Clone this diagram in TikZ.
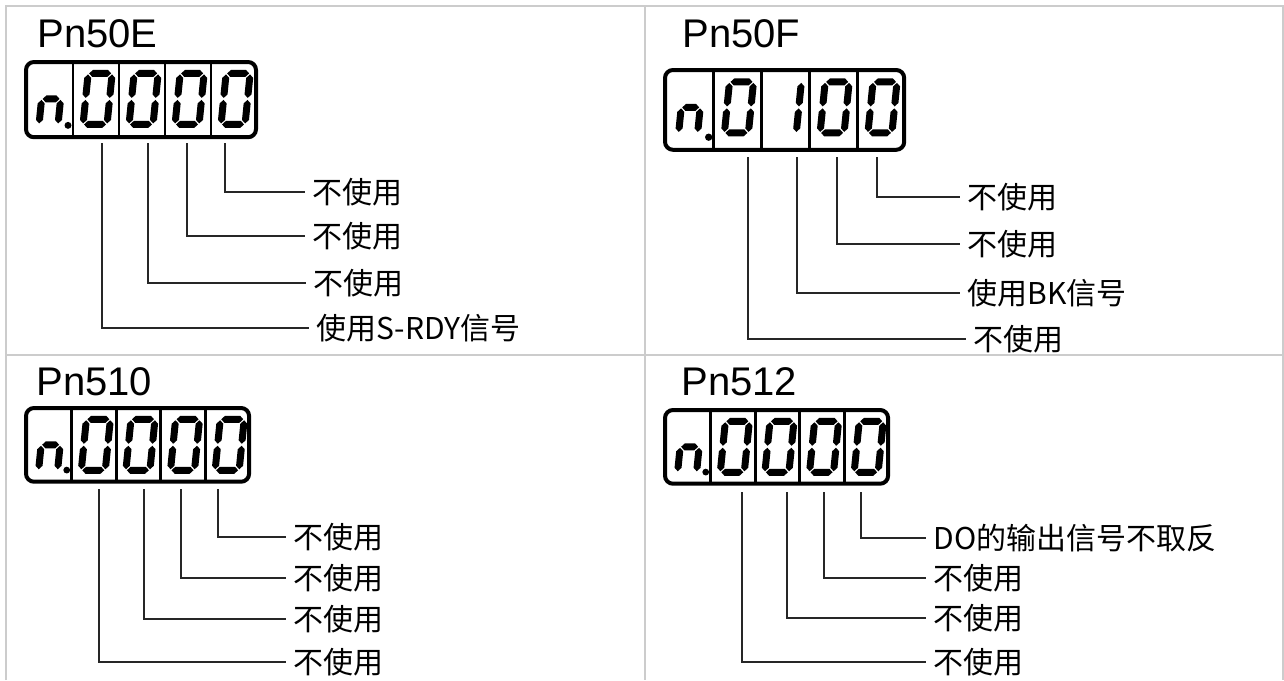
\documentclass[tikz,border=0pt]{standalone}
\usepackage{fontspec}
\setmainfont{Liberation Sans}
\newfontfamily\cjk{Noto Sans CJK SC}
\usetikzlibrary{positioning}
% one 7-segment bar, horizontal (x1,x2,y) or vertical (x,y1,y2)
\newcommand\hseg[3]{\fill ({#1},{#3}) -- ({#1+3.5},{#3-3.5}) -- ({#2-3.5},{#3-3.5}) -- ({#2},{#3}) -- ({#2-3.5},{#3+3.5}) -- ({#1+3.5},{#3+3.5}) -- cycle;}
\newcommand\vseg[3]{\fill ({#1},{#2}) -- ({#1+3.5},{#2+3.5}) -- ({#1+3.5},{#3-3.5}) -- ({#1},{#3}) -- ({#1-3.5},{#3-3.5}) -- ({#1-3.5},{#2+3.5}) -- cycle;}
\tikzset{
  gridln/.style={draw=black!20, line width=1pt},
  title/.style={font=\fontsize{20}{22}\selectfont, anchor=base west, inner sep=0pt},
  lbl/.style={font=\cjk\fontsize{15}{17}\selectfont, anchor=west, inner xsep=3.5pt, inner ysep=1pt},
  lead/.style={draw=black!85, line width=0.75pt},
  panel/.style={draw, line width=2pt, rounded corners=4pt},
  cellsep/.style={draw, line width=1.4pt},
  pics/digzero/.style={code={\hseg{4.5}{26.5}{3.5}\vseg{27.5}{4.5}{28}\vseg{27.5}{30}{53.5}\hseg{4.5}{26.5}{54.5}\vseg{3.5}{30}{53.5}\vseg{3.5}{4.5}{28}}},
  pics/digone/.style={code={\vseg{27.5}{4.5}{28}\vseg{27.5}{30}{53.5}}},
  pics/dign/.style={code={\hseg{4.5}{21.5}{29}\vseg{3.5}{30}{53.5}\vseg{22.5}{30}{53.5}}},
}
% display n.abcd, digits given as pic names
\newcommand\display[4]{%
  \draw[panel] (0,0) rectangle (230,76);
  \foreach \sx in {47,93,139,185} \draw[cellsep] (\sx,0) -- (\sx,76);
  \pic[xslant=0.1] at (15,8) {dign};
  \fill (42,64) circle (3.5);
  \pic[xslant=0.1] at (59,8) {#1};
  \pic[xslant=0.1] at (105,8) {#2};
  \pic[xslant=0.1] at (151,8) {#3};
  \pic[xslant=0.1] at (197,8) {#4};}
\begin{document}
\begin{tikzpicture}[x=0.5pt,y=-0.5pt]
\useasboundingbox (0,0) rectangle (1284,680);
% table frame
\draw[gridln] (6,680) -- (6,6) -- (1283,6) -- (1283,680);
\draw[gridln] (6,355) -- (1283,355);
\draw[gridln] (645,6) -- (645,680);

% Pn50E
\node[title] (t1) at (37,47) {Pn50E};
\begin{scope}[shift={(26,62)}, yscale=0.99]
\display{digzero}{digzero}{digzero}{digzero}
\end{scope}
\coordinate (p11) at (102,143); \coordinate (p12) at (148,143);
\coordinate (p13) at (187,143); \coordinate (p14) at (225,143);
\node[lbl] (a14) at (305,192) {不使用};
\node[lbl] (a13) at (305,236) {不使用};
\node[lbl] (a12) at (306,283) {不使用};
\node[lbl] (a11) at (309,328) {使用S-RDY信号};
\draw[lead] (p14) |- (a14.west);
\draw[lead] (p13) |- (a13.west);
\draw[lead] (p12) |- (a12.west);
\draw[lead] (p11) |- (a11.west);

% Pn50F
\node[title] (t2) at (682,47) {Pn50F};
\begin{scope}[shift={(665,70)}, xscale=1.04, yscale=1.05]
\display{digzero}{digone}{digzero}{digzero}
\end{scope}
\coordinate (p21) at (748,157); \coordinate (p22) at (797,157);
\coordinate (p23) at (837,157); \coordinate (p24) at (877,157);
\node[lbl] (a24) at (960,197) {不使用};
\node[lbl] (a23) at (960,244) {不使用};
\node[lbl] (a22) at (960,293) {使用BK信号};
\node[lbl] (a21) at (966,339) {不使用};
\draw[lead] (p24) |- (a24.west);
\draw[lead] (p23) |- (a23.west);
\draw[lead] (p22) |- (a22.west);
\draw[lead] (p21) |- (a21.west);

% Pn510
\node[title] (t3) at (36,395) {Pn510};
\begin{scope}[shift={(26,408)}, xscale=0.97, yscale=0.97]
\display{digzero}{digzero}{digzero}{digzero}
\end{scope}
\coordinate (p31) at (99,489); \coordinate (p32) at (144,489);
\coordinate (p33) at (181,489); \coordinate (p34) at (218,489);
\node[lbl] (a34) at (286,537) {不使用};
\node[lbl] (a33) at (286,578) {不使用};
\node[lbl] (a32) at (286,619) {不使用};
\node[lbl] (a31) at (286,662) {不使用};
\draw[lead] (p34) |- (a34.west);
\draw[lead] (p33) |- (a33.west);
\draw[lead] (p32) |- (a32.west);
\draw[lead] (p31) |- (a31.west);

% Pn512
\node[title] (t4) at (681,395) {Pn512};
\begin{scope}[shift={(665,410)}, xscale=0.97, yscale=0.97]
\display{digzero}{digzero}{digzero}{digzero}
\end{scope}
\coordinate (p41) at (742,492); \coordinate (p42) at (787,492);
\coordinate (p43) at (824,492); \coordinate (p44) at (861,492);
\node[lbl] (a44) at (926,538) {DO的输出信号不取反};
\node[lbl] (a43) at (926,578) {不使用};
\node[lbl] (a42) at (926,618) {不使用};
\node[lbl] (a41) at (926,662) {不使用};
\draw[lead] (p44) |- (a44.west);
\draw[lead] (p43) |- (a43.west);
\draw[lead] (p42) |- (a42.west);
\draw[lead] (p41) |- (a41.west);
\end{tikzpicture}
\end{document}
